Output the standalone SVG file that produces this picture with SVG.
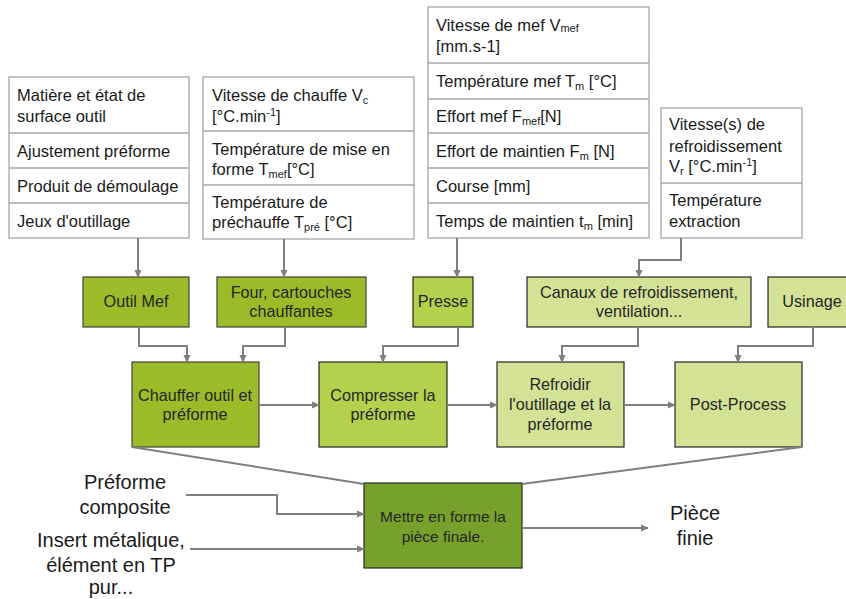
<svg xmlns="http://www.w3.org/2000/svg" width="846" height="599" viewBox="0 0 846 599">
<defs>
<marker id="ah" markerWidth="8" markerHeight="8" refX="7" refY="4" orient="auto" markerUnits="userSpaceOnUse">
<path d="M0,0.5 L8,4 L0,7.5 Z" fill="#7f7f7f"/>
</marker>
<style>
text{font-family:"Liberation Sans",Arial,sans-serif;fill:#1a1a1a}
.tb{fill:#fff;stroke:#a6a6a6;stroke-width:1.3}
.dv{stroke:#a6a6a6;stroke-width:1.3}
.t{font-size:16.5px}
.sub{font-size:11px}
.g1{fill:#9bbb29;stroke:#404040;stroke-width:1.2}
.g2{fill:#b3d14d;stroke:#262626;stroke-width:1.2}
.g3{fill:#d4e296;stroke:#262626;stroke-width:1.2}
.g4{fill:#76a12b;stroke:#262626;stroke-width:1.2}
.bt{font-size:16.2px;text-anchor:middle;fill:#262626}
.big{font-size:20px;text-anchor:middle}
.c{fill:none;stroke:#7f7f7f;stroke-width:2}
.ca{fill:none;stroke:#7f7f7f;stroke-width:2;marker-end:url(#ah)}
</style>
</defs>

<g id="table1">
<rect class="tb" x="9" y="77" width="180" height="161"/>
<line class="dv" x1="9" y1="133" x2="189" y2="133"/>
<line class="dv" x1="9" y1="168" x2="189" y2="168"/>
<line class="dv" x1="9" y1="203" x2="189" y2="203"/>
<text class="t" x="17" y="101">Matière et état de</text>
<text class="t" x="17" y="122">surface outil</text>
<text class="t" x="17" y="157">Ajustement préforme</text>
<text class="t" x="17" y="192">Produit de démoulage</text>
<text class="t" x="17" y="227">Jeux d'outillage</text>
</g>

<g id="table2">
<rect class="tb" x="203" y="77" width="211" height="162"/>
<line class="dv" x1="203" y1="131" x2="414" y2="131"/>
<line class="dv" x1="203" y1="185" x2="414" y2="185"/>
<text class="t" x="212" y="101">Vitesse de chauffe V<tspan class="sub" dy="3">c</tspan></text>
<text class="t" x="212" y="122">[°C.min<tspan class="sub" dy="-6">-1</tspan><tspan dy="6">]</tspan></text>
<text class="t" x="212" y="155">Température de mise en</text>
<text class="t" x="212" y="175">forme T<tspan class="sub" dy="3">mef</tspan><tspan dy="-3">[°C]</tspan></text>
<text class="t" x="212" y="208">Température de</text>
<text class="t" x="212" y="228">préchauffe T<tspan class="sub" dy="3">pré</tspan><tspan dy="-3"> [°C]</tspan></text>
</g>

<g id="table3">
<rect class="tb" x="428" y="7" width="221" height="231"/>
<line class="dv" x1="428" y1="63" x2="649" y2="63"/>
<line class="dv" x1="428" y1="99" x2="649" y2="99"/>
<line class="dv" x1="428" y1="133" x2="649" y2="133"/>
<line class="dv" x1="428" y1="168" x2="649" y2="168"/>
<line class="dv" x1="428" y1="203" x2="649" y2="203"/>
<text class="t" x="436" y="31">Vitesse de mef V<tspan class="sub" dy="1">mef</tspan></text>
<text class="t" x="436" y="52">[mm.s-1]</text>
<text class="t" x="436" y="87">Température mef T<tspan class="sub" dy="3">m</tspan><tspan dy="-3"> [°C]</tspan></text>
<text class="t" x="436" y="122">Effort mef F<tspan class="sub" dy="3">mef</tspan><tspan dy="-3">[N]</tspan></text>
<text class="t" x="436" y="157">Effort de maintien F<tspan class="sub" dy="3">m</tspan><tspan dy="-3"> [N]</tspan></text>
<text class="t" x="436" y="192">Course [mm]</text>
<text class="t" x="436" y="227">Temps de maintien t<tspan class="sub" dy="3">m</tspan><tspan dy="-3"> [min]</tspan></text>
</g>

<g id="table4">
<rect class="tb" x="661" y="108" width="141" height="130"/>
<line class="dv" x1="661" y1="183" x2="802" y2="183"/>
<text class="t" x="669" y="130">Vitesse(s) de</text>
<text class="t" x="669" y="152">refroidissement</text>
<text class="t" x="669" y="172">V<tspan class="sub" dy="3">r</tspan><tspan dy="-3"> [°C.min</tspan><tspan class="sub" dy="-6">-1</tspan><tspan dy="6">]</tspan></text>
<text class="t" x="669" y="206">Température</text>
<text class="t" x="669" y="227">extraction</text>
</g>

<g id="outil">
<rect class="g1" x="83" y="277" width="106" height="50"/>
<text class="bt" x="136" y="307">Outil Mef</text>
</g>
<g id="four">
<rect class="g1" x="217" y="277" width="149" height="50"/>
<text class="bt" x="291" y="298">Four, cartouches</text>
<text class="bt" x="291" y="317">chauffantes</text>
</g>
<g id="presse">
<rect class="g2" x="413" y="277" width="60" height="50"/>
<text class="bt" x="443" y="307">Presse</text>
</g>
<g id="canaux">
<rect class="g3" x="527" y="277" width="224" height="50"/>
<text class="bt" x="639" y="298">Canaux de refroidissement,</text>
<text class="bt" x="639" y="317">ventilation...</text>
</g>
<g id="usinage">
<rect class="g3" x="768" y="277" width="88" height="50"/>
<text class="bt" x="812" y="307">Usinage</text>
</g>

<g id="chauffer">
<rect class="g1" x="132" y="362" width="127" height="85"/>
<text class="bt" x="195" y="401">Chauffer outil et</text>
<text class="bt" x="195" y="420">préforme</text>
</g>
<g id="compresser">
<rect class="g2" x="319" y="362" width="128" height="85"/>
<text class="bt" x="383" y="401">Compresser la</text>
<text class="bt" x="383" y="420">préforme</text>
</g>
<g id="refroidir">
<rect class="g3" x="497" y="362" width="127" height="85"/>
<text class="bt" x="560" y="390">Refroidir</text>
<text class="bt" x="560" y="410">l'outillage et la</text>
<text class="bt" x="560" y="430">préforme</text>
</g>
<g id="post">
<rect class="g3" x="675" y="362" width="127" height="85"/>
<text class="bt" x="738" y="410">Post-Process</text>
</g>

<g id="mettre">
<rect class="g4" x="364" y="483" width="158" height="85"/>
<text class="bt" x="443" y="522" style="font-size:15.5px">Mettre en forme la</text>
<text class="bt" x="443" y="542" style="font-size:15.5px">pièce finale.</text>
</g>

<g id="inputs">
<text class="big" x="125" y="489">Préforme</text>
<text class="big" x="125" y="514">composite</text>
<text class="big" x="111" y="547">Insert métalique,</text>
<text class="big" x="111" y="572">élément en TP</text>
<text class="big" x="111" y="594">pur...</text>
</g>
<g id="output">
<text class="big" x="695" y="520">Pièce</text>
<text class="big" x="695" y="545">finie</text>
</g>

<g id="connectors">
<path class="ca" d="M138,238 V277"/>
<path class="ca" d="M284,239 V277"/>
<path class="ca" d="M457,238 V277"/>
<path class="ca" d="M681,238 V260 H639 V277"/>
<path class="ca" d="M139,327 V346 H187 V362"/>
<path class="ca" d="M285,327 V346 H243 V362"/>
<path class="ca" d="M458,327 V346 H383 V362"/>
<path class="ca" d="M638,327 V346 H562 V362"/>
<path class="ca" d="M813,327 V346 H738 V362"/>
<path class="ca" d="M259,405 H319"/>
<path class="ca" d="M447,405 H497"/>
<path class="ca" d="M624,405 H675"/>
<path class="c" d="M132,447 L364,484"/>
<path class="c" d="M802,447 L522,484"/>
<path class="ca" d="M186,495 H277 V514 H364"/>
<path class="ca" d="M190,549 H364"/>
<path class="ca" d="M522,528 H648"/>
</g>
</svg>
